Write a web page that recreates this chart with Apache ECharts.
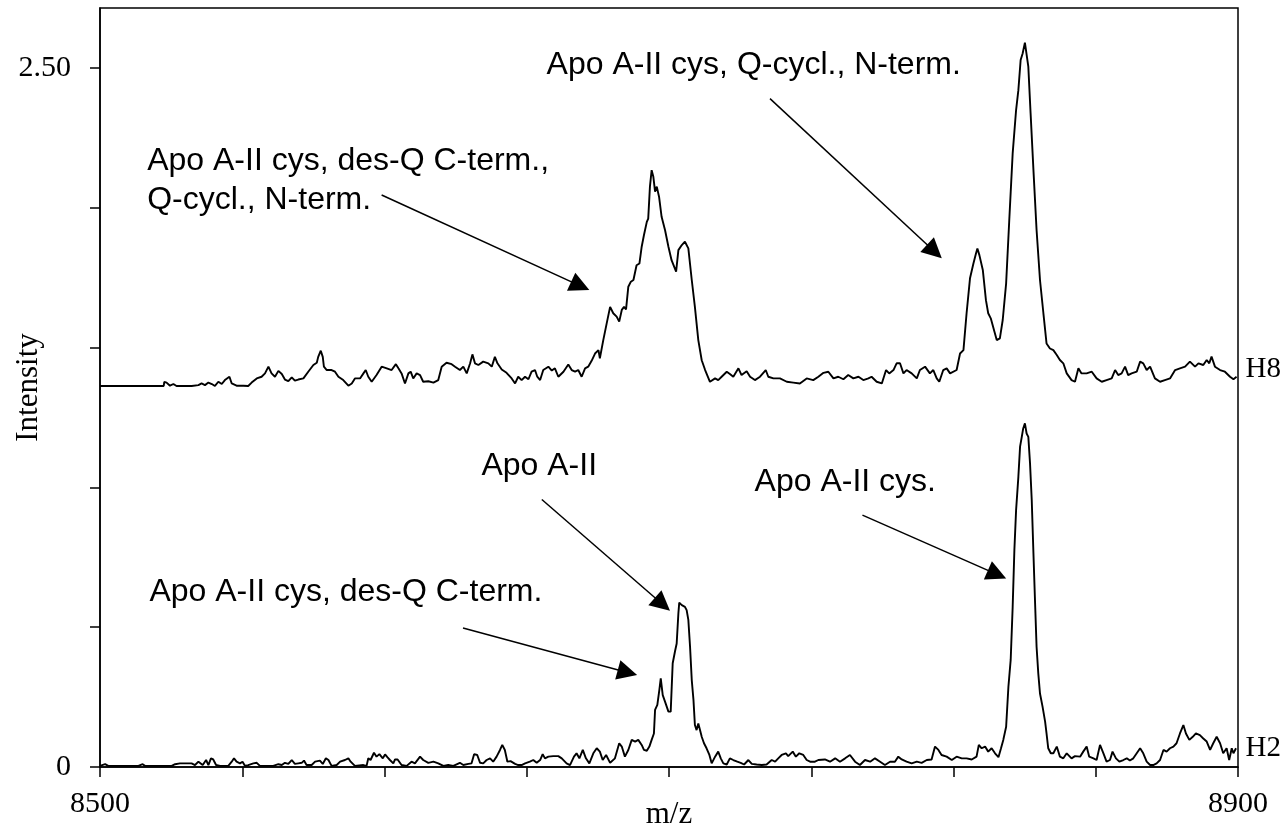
<!DOCTYPE html>
<html><head><meta charset="utf-8">
<script src="https://cdn.jsdelivr.net/npm/echarts@6/dist/echarts.min.js"></script>
<style>html,body{margin:0;padding:0;background:#fff}#c{width:1287px;height:828px}</style>
</head><body><div id="c"></div>
<script>
// ---------- data (m/z, intensity) ----------
const h8Mz = [8500.0,8522.4,8522.6,8523.4,8524.6,8525.8,8526.9,8532.2,8532.8,8534.6,8535.7,8536.9,8538.1,8539.3,8540.4,8541.6,8542.8,8543.9,8544.5,8545.5,8546.3,8548.0,8550.4,8552.1,8553.3,8555.1,8556.8,8558.0,8559.2,8560.3,8561.5,8562.7,8563.9,8565.0,8566.2,8567.4,8568.5,8569.7,8571.5,8573.2,8575.0,8576.2,8576.7,8577.6,8578.3,8578.7,8579.7,8581.4,8582.6,8583.8,8585.5,8587.3,8588.5,8589.6,8591.4,8592.6,8593.4,8594.3,8595.5,8597.2,8599.0,8600.8,8602.5,8604.0,8604.9,8606.0,8607.2,8608.4,8609.2,8610.1,8611.3,8612.5,8613.6,8615.4,8617.2,8618.9,8620.1,8621.8,8623.6,8624.8,8626.5,8627.7,8628.9,8630.1,8630.9,8631.8,8633.0,8634.7,8636.5,8637.7,8638.8,8639.7,8641.2,8642.9,8644.7,8645.9,8647.0,
8648.2,8649.4,8650.6,8651.7,8652.9,8653.7,8654.7,8655.8,8657.6,8658.8,8659.9,8661.1,8662.9,8664.6,8665.8,8667.0,8668.1,8669.3,8670.5,8671.6,8672.8,8674.0,8675.2,8675.7,8676.9,8678.1,8679.3,8680.4,8681.6,8682.5,8683.4,8684.2,8684.9,8685.7,8686.6,8687.5,8688.6,8689.6,8690.4,8691.2,8692.2,8692.7,8693.3,8693.9,8694.5,8695.1,8695.7,8696.5,8697.4,8698.6,8699.8,8700.9,8702.5,8703.3,8704.5,8705.6,8706.8,8708.0,8709.1,8710.3,8711.5,8712.7,8714.4,8716.2,8717.3,8718.5,8720.3,8721.4,8722.6,8724.4,8725.5,8727.3,8728.5,8730.2,8732.0,8734.0,8734.9,8736.7,8739.0,8741.4,8743.7,8746.0,
8748.4,8750.7,8752.5,8754.3,8756.0,8757.8,8759.5,8761.3,8763.0,8764.8,8766.6,8768.3,8770.1,8771.2,8773.0,8774.8,8776.3,8777.4,8778.9,8780.0,8781.2,8782.4,8783.5,8785.3,8787.1,8788.2,8790.0,8791.7,8792.9,8794.1,8795.0,8796.4,8797.6,8798.8,8801.1,8802.3,8803.5,8804.6,8805.8,8807.0,8807.9,8808.4,8809.1,8810.3,8811.4,8812.2,8813.1,8813.8,8814.4,8815.2,8816.3,8817.3,8818.5,8819.6,8820.8,8822.0,8822.8,8823.6,8824.3,8825.1,8825.7,8826.3,8827.1,8828.1,8829.2,8830.4,8831.6,8832.7,8833.9,8835.1,8836.3,8837.4,8838.6,8839.8,8841.5,8842.7,8843.9,8845.0,8846.8,8848.6,8850.3,8852.1,8853.8,8855.6,8856.8,8857.9,8859.1,8860.3,8861.4,8862.6,8864.4,8865.6,8866.7,8867.9,8869.1,8870.8,8872.6,8874.3,8876.1,8877.9,8879.6,8881.4,8883.1,8884.9,8886.1,8887.8,8889.0,8889.9,8890.7,8891.9,8893.7,8895.4,8897.2,8898.4,8899.5];
const h8Int = [1.363,1.363,1.378,1.375,1.364,1.370,1.363,1.363,1.370,1.366,1.372,1.366,1.375,1.370,1.363,1.378,1.370,1.384,1.378,1.396,1.372,1.364,1.364,1.363,1.375,1.390,1.396,1.408,1.432,1.408,1.396,1.417,1.406,1.386,1.380,1.394,1.382,1.386,1.390,1.414,1.438,1.446,1.467,1.489,1.467,1.432,1.420,1.420,1.414,1.396,1.384,1.364,1.372,1.390,1.390,1.408,1.420,1.396,1.378,1.402,1.432,1.426,1.420,1.441,1.426,1.408,1.372,1.408,1.414,1.390,1.408,1.402,1.378,1.380,1.375,1.384,1.432,1.446,1.441,1.432,1.420,1.432,1.408,1.444,1.476,1.444,1.438,1.450,1.444,1.432,1.467,1.444,1.422,1.410,1.390,1.372,1.396,
1.384,1.396,1.387,1.414,1.420,1.396,1.384,1.420,1.432,1.418,1.426,1.396,1.414,1.440,1.420,1.414,1.420,1.396,1.426,1.432,1.453,1.479,1.491,1.462,1.527,1.587,1.646,1.623,1.611,1.593,1.635,1.646,1.637,1.718,1.736,1.742,1.795,1.801,1.861,1.903,1.950,1.962,2.076,2.135,2.111,2.058,2.076,2.040,1.968,1.921,1.861,1.813,1.772,1.849,1.867,1.879,1.855,1.742,1.646,1.527,1.455,1.420,1.378,1.390,1.384,1.396,1.414,1.406,1.396,1.426,1.402,1.416,1.396,1.384,1.396,1.420,1.396,1.390,1.390,1.378,1.375,1.372,
1.390,1.384,1.396,1.410,1.414,1.390,1.396,1.387,1.402,1.390,1.396,1.384,1.390,1.396,1.378,1.372,1.420,1.408,1.420,1.444,1.444,1.408,1.420,1.408,1.390,1.420,1.432,1.408,1.420,1.390,1.378,1.420,1.426,1.408,1.420,1.479,1.491,1.623,1.748,1.801,1.837,1.855,1.831,1.778,1.670,1.623,1.605,1.599,1.557,1.527,1.533,1.599,1.730,1.956,2.195,2.350,2.421,2.529,2.552,2.591,2.588,2.505,2.338,2.135,1.921,1.742,1.623,1.515,1.497,1.491,1.474,1.456,1.444,1.408,1.384,1.378,1.426,1.408,1.408,1.414,1.390,1.378,1.384,1.390,1.420,1.402,1.408,1.432,1.402,1.408,1.414,1.450,1.444,1.420,1.432,1.390,1.378,1.384,1.390,1.420,1.426,1.432,1.450,1.432,1.444,1.438,1.456,1.444,1.468,1.432,1.420,1.414,1.396,1.387,1.396];

const h2Mz = [8500.0,8501.8,8502.9,8508.8,8509.4,8510.0,8513.5,8514.1,8515.0,8515.8,8519.9,8520.5,8521.1,8524.0,8524.6,8525.2,8526.4,8528.1,8529.9,8532.2,8533.4,8534.6,8535.1,8536.1,8537.3,8538.1,8539.0,8539.8,8540.8,8542.2,8545.1,8546.3,8547.1,8548.0,8549.2,8550.1,8551.0,8552.1,8553.9,8555.1,8556.2,8560.9,8562.7,8563.9,8565.0,8566.2,8567.4,8568.5,8569.7,8570.9,8571.7,8572.6,8574.4,8575.6,8576.2,8577.3,8578.3,8579.4,8580.3,8581.4,8583.2,8584.4,8586.1,8587.3,8588.1,8589.6,8592.6,8593.7,8594.3,8595.1,8596.3,8597.2,8598.2,8599.4,8600.2,8601.0,8601.9,8603.1,8603.7,8604.6,8606.0,8607.8,8609.5,8610.7,8612.5,8613.6,8615.4,8617.2,8618.9,8620.7,8622.4,8624.2,8626.5,8627.7,8629.5,8630.6,8631.5,8632.6,8633.6,8634.7,8635.9,8637.1,8638.2,8639.4,8640.6,8641.4,8642.3,8643.2,8644.3,8645.9,8647.0,
8648.2,8649.4,8651.1,8652.3,8653.5,8654.7,8655.6,8656.4,8657.6,8659.3,8661.1,8662.3,8664.0,8665.2,8666.6,8667.5,8668.5,8669.7,8670.8,8672.0,8673.4,8674.6,8675.7,8676.7,8677.9,8679.3,8681.0,8682.5,8683.4,8684.5,8685.7,8686.9,8688.1,8689.2,8690.4,8691.2,8692.2,8693.1,8693.9,8694.7,8695.1,8695.9,8696.6,8697.1,8697.8,8698.6,8699.2,8699.8,8700.6,8701.3,8702.1,8702.7,8703.3,8703.6,8704.5,8705.0,8705.6,8706.2,8706.8,8707.4,8708.0,8708.6,8709.1,8709.7,8710.3,8710.9,8711.5,8712.3,8713.2,8714.2,8715.0,8716.2,8717.3,8718.2,8719.1,8720.3,8721.4,8722.6,8724.0,8725.2,8726.4,8727.9,8729.1,8730.8,8732.6,8734.3,8736.1,8737.3,8738.4,8739.6,8741.1,8741.9,8743.5,8744.6,8745.8,8747.2,8748.4,8749.6,8751.3,8752.5,
8754.8,8756.6,8758.4,8760.1,8761.9,8763.6,8765.4,8767.1,8768.9,8770.7,8772.4,8774.2,8775.9,8777.7,8779.4,8780.6,8781.8,8783.5,8785.3,8787.1,8788.8,8790.6,8792.3,8793.5,8794.7,8795.8,8797.6,8799.4,8801.1,8802.9,8804.6,8806.4,8808.1,8808.9,8809.9,8811.1,8812.2,8813.4,8814.6,8815.8,8816.7,8817.5,8818.5,8819.3,8820.1,8820.8,8821.4,8822.0,8822.8,8823.4,8824.0,8824.5,8825.1,8825.7,8826.3,8826.9,8827.5,8828.1,8828.6,8829.2,8829.8,8830.4,8831.3,8832.2,8832.7,8833.3,8834.2,8835.1,8836.3,8837.4,8838.6,8839.8,8841.5,8842.7,8844.5,8845.6,8846.8,8847.7,8849.2,8850.3,8851.5,8852.7,8853.8,8855.0,8855.9,8857.1,8858.3,8859.7,8860.9,8862.0,8863.2,8864.4,8865.6,8866.7,8867.9,8869.1,8870.2,8871.4,8872.6,8873.8,8874.9,8876.1,8877.3,8878.4,8879.6,8880.8,8881.7,8882.9,8884.1,8885.2,8886.6,8887.8,8889.0,8890.2,8891.3,8892.5,8893.7,8894.8,8896.0,8896.9,8897.8,8898.4,8899.3];
const h2Int = [0.004,0.010,0.004,0.004,0.010,0.004,0.004,0.011,0.010,0.004,0.004,0.011,0.004,0.004,0.011,0.004,0.010,0.013,0.013,0.013,0.007,0.019,0.025,0.007,0.025,0.007,0.031,0.027,0.007,0.004,0.004,0.019,0.031,0.019,0.013,0.019,0.004,0.007,0.013,0.015,0.004,0.004,0.010,0.007,0.015,0.011,0.025,0.011,0.013,0.015,0.023,0.007,0.007,0.019,0.025,0.023,0.011,0.031,0.025,0.004,0.007,0.019,0.025,0.031,0.019,0.004,0.007,0.004,0.031,0.025,0.051,0.037,0.046,0.031,0.045,0.035,0.025,0.013,0.027,0.027,0.007,0.004,0.019,0.013,0.037,0.025,0.015,0.019,0.013,0.004,0.007,0.004,0.015,0.007,0.011,0.013,0.046,0.043,0.015,0.013,0.025,0.031,0.019,0.037,0.061,0.079,0.061,0.019,0.021,0.011,0.007,
0.007,0.013,0.019,0.025,0.015,0.025,0.046,0.031,0.037,0.039,0.039,0.031,0.013,0.007,0.037,0.049,0.031,0.061,0.031,0.013,0.049,0.067,0.055,0.025,0.043,0.015,0.031,0.085,0.073,0.037,0.061,0.097,0.091,0.097,0.079,0.061,0.058,0.073,0.097,0.120,0.204,0.222,0.275,0.317,0.257,0.234,0.240,0.198,0.198,0.371,0.413,0.442,0.550,0.588,0.579,0.585,0.573,0.561,0.526,0.430,0.311,0.240,0.150,0.132,0.156,0.132,0.108,0.085,0.067,0.043,0.013,0.037,0.055,0.031,0.013,0.009,0.031,0.025,0.019,0.015,0.009,0.025,0.011,0.009,0.007,0.009,0.025,0.019,0.031,0.043,0.049,0.039,0.055,0.037,0.049,0.043,0.025,0.019,0.019,0.025,
0.027,0.019,0.031,0.019,0.031,0.043,0.019,0.007,0.025,0.019,0.031,0.019,0.007,0.019,0.019,0.037,0.027,0.019,0.013,0.019,0.015,0.025,0.027,0.073,0.061,0.043,0.037,0.025,0.037,0.031,0.031,0.027,0.037,0.079,0.067,0.073,0.055,0.067,0.049,0.035,0.067,0.097,0.144,0.287,0.383,0.573,0.776,0.919,1.038,1.146,1.181,1.211,1.229,1.193,1.181,1.086,0.955,0.764,0.609,0.430,0.335,0.263,0.216,0.162,0.120,0.067,0.049,0.049,0.073,0.037,0.031,0.049,0.031,0.039,0.037,0.055,0.073,0.037,0.031,0.025,0.079,0.049,0.019,0.025,0.055,0.031,0.019,0.025,0.031,0.023,0.031,0.049,0.067,0.049,0.019,0.007,0.007,0.013,0.025,0.061,0.055,0.067,0.073,0.085,0.120,0.150,0.120,0.097,0.108,0.120,0.114,0.102,0.091,0.061,0.085,0.108,0.085,0.049,0.067,0.025,0.067,0.049,0.067];

// ---------- axes ----------
const xTicks = [8500,8550,8600,8650,8700,8750,8800,8850,8900];
const xLabels = [8500,8900];
const yTicks = [0,0.5,1.0,1.5,2.0,2.5];
const yLabels = [0,2.5];

// ---------- trace labels & annotations ----------
const traceNames = ['H8','H2'];
const traceLabelY = [1.423,0.068];
const noteTexts = ['Apo A-II cys, Q-cycl., N-term.','Apo A-II cys, des-Q C-term.,','Q-cycl., N-term.','Apo A-II','Apo A-II cys.','Apo A-II cys, des-Q C-term.'];
const noteMz = [8656.8,8516.4,8516.4,8633.9,8729.9,8517.2];
const noteInt = [2.511,2.167,2.028,1.077,1.019,0.624];
const arrowFromMz = [8735.5,8599.0,8655.3,8768.0,8627.6];
const arrowFromInt = [2.391,2.046,0.957,0.901,0.497];
const arrowToMz = [8793.3,8668.8,8697.7,8815.3,8685.4];
const arrowToInt = [1.844,1.721,0.582,0.689,0.338];

const zip = (a,b)=>a.map((v,i)=>[v,b[i]]);
const serif = 'Liberation Serif';
const sans = 'Liberation Sans';

const traceLabel = (i)=>({
  symbol:'circle', symbolSize:1, itemStyle:{color:'rgba(0,0,0,0)'},
  label:{show:true, position:'right', distance:7, formatter:traceNames[i], fontFamily:serif, fontSize:29, color:'#000'},
  data:[{coord:[8900, traceLabelY[i]]}], silent:true, animation:false
});

const notes = noteTexts.map((t,i)=>({coord:[noteMz[i], noteInt[i]], label:{formatter:t}}));
const arrows = arrowFromMz.map((m,i)=>[{coord:[m, arrowFromInt[i]]},{coord:[arrowToMz[i], arrowToInt[i]]}]);

const chart = echarts.init(document.getElementById('c'), null, {renderer:'canvas'});
chart.setOption({
  animation:false,
  backgroundColor:'#fff',
  grid:{left:100, right:49, top:8, bottom:61, containLabel:false, outerBoundsMode:'none',
        show:true, borderColor:'#000', borderWidth:1.5, backgroundColor:'transparent'},
  xAxis:{
    type:'value', min:8500, max:8900, interval:50,
    axisLine:{show:true, onZero:false, lineStyle:{color:'#000', width:1.5}},
    axisTick:{show:true, length:10, customValues:xTicks, lineStyle:{color:'#000', width:1.5}},
    axisLabel:{customValues:xLabels, fontFamily:serif, fontSize:30, color:'#000', margin:22,
      formatter:(v)=> String(v)},
    splitLine:{show:false},
    name:'m/z', nameLocation:'middle', nameGap:32, nameMoveOverlap:false,
    nameTextStyle:{fontFamily:serif, fontSize:31, color:'#000'}
  },
  yAxis:{
    type:'value', min:0, max:2.715, interval:0.5,
    axisLine:{show:true, lineStyle:{color:'#000', width:1.5}},
    axisTick:{show:true, length:10, customValues:yTicks, lineStyle:{color:'#000', width:1.5}},
    axisLabel:{customValues:yLabels, fontFamily:serif, fontSize:30, color:'#000', margin:29,
      formatter:(v)=> v===0 ? '0' : v.toFixed(2)},
    splitLine:{show:false},
    name:'Intensity', nameLocation:'middle', nameGap:56, nameMoveOverlap:false,
    nameTextStyle:{fontFamily:serif, fontSize:31, color:'#000'}
  },
  series:[
    {
      name:'H8', type:'line', data:zip(h8Mz,h8Int), showSymbol:false, symbol:'none',
      lineStyle:{color:'#000', width:1.9}, silent:true,
      markPoint:traceLabel(0)
    },
    {
      name:'H2', type:'line', data:zip(h2Mz,h2Int), showSymbol:false, symbol:'none',
      lineStyle:{color:'#000', width:1.9}, silent:true,
      markPoint:traceLabel(1)
    },
    {
      name:'notes', type:'line', data:[], silent:true,
      markPoint:{
        symbol:'circle', symbolSize:1, itemStyle:{color:'rgba(0,0,0,0)'},
        label:{show:true, position:'right', distance:0, fontFamily:sans, fontSize:32, color:'#000'},
        data:notes, animation:false
      },
      markLine:{
        silent:true, animation:false,
        symbol:['none','triangle'], symbolSize:20,
        lineStyle:{color:'#000', width:1.5, type:'solid'},
        label:{show:false},
        emphasis:{disabled:true},
        data:arrows
      }
    }
  ]
});
</script>
</body></html>
